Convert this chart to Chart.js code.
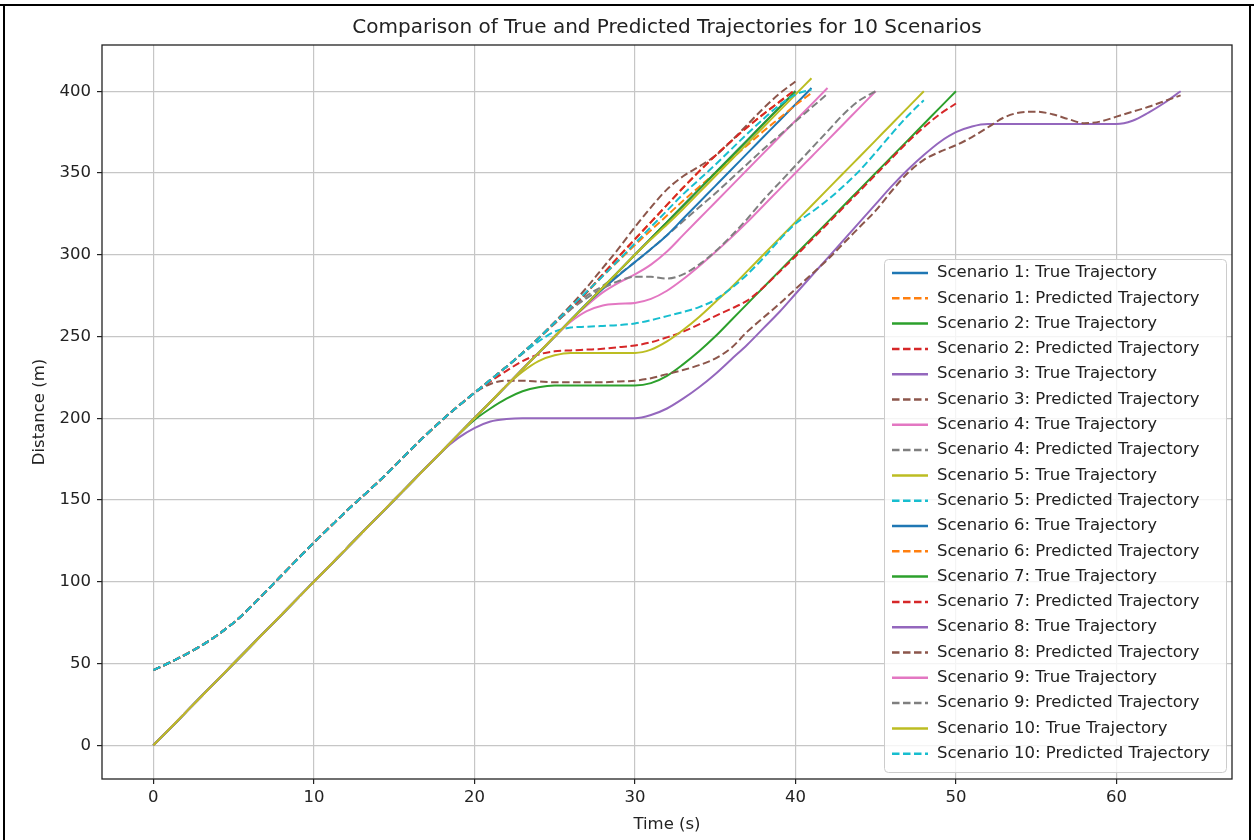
<!DOCTYPE html>
<html>
<head>
<meta charset="utf-8">
<script src="https://cdn.jsdelivr.net/npm/chart.js@4.4.0/dist/chart.umd.min.js"></script>
<style>
  html, body { margin: 0; padding: 0; background: #fff; }
  #wrap { position: relative; width: 1254px; height: 840px; }
</style>
</head>
<body>
<div id="wrap"><canvas id="traj" width="1254" height="840"></canvas></div>
<script>
// time grid (s) and axis ticks
var timeSteps = [0,1,2,3,4,5,6,7,8,9,10,11,12,13,14,15,16,17,18,19,20,21,22,23,24,25,26,27,28,29,30,31,32,33,34,35,36,37,38,39,40,41,42,43,44,45,46,47,48,49,50,51,52,53,54,55,56,57,58,59,60,61,62,63,64];
var xTicks = [0, 10, 20, 30, 40, 50, 60];
var yTicks = [0, 50, 100, 150, 200, 250, 300, 350, 400];

// shared start of every true trajectory, t = 0..17
var trueStart = [0,10,20,30,40,50,60,70,80,90,100,110,120,130,140,150,160,170];
// shared start of every predicted trajectory, t = 0..20
var predStart = [46,50.5,55.5,61,67.5,75,84,94,104,114,124,133.5,143,152,161,170.5,180.5,190,199,207.5,215.5];

// true trajectories, from t = 18
var trueS1 = [180,190,200,210,220,230,240,250,260,270,280,290,300,310,320,330,340,350,360,370,380,390,400];
var trueS2 = [180,190,199,206,212,216.5,219,220,220,220,220,220,220,221.5,226,233,241,250,260,270,280,290,300,310,320,330,340,350,360,370,380,390,400];
var trueS3 = [180,190,200,210,220,230,240,250,260,270,280,290,300,310,320,330,340,350,360,370,380,390,400];
var trueS4 = [180,190,200,210,220,230,240,250,260,269,277,283,288,294,302,312,322,332,342,352,362,372,382,392,402];
var trueS5 = [180,190,200,210,220,228.5,235,238.5,240,240,240,240,240,242,247,254,262,271,280,290,300,310,320,330,340,350,360,370,380,390,400];
var trueS6 = [180,190,200,210,220,230,240,250,260,270,279,287.5,295.5,303.5,312,322,332,342,352,362,372,382,392,402];
var trueS7 = [180,190,200,210,220,230,240,250,260,270,280,290,300,310,320,330,340,350,360,370,380,390,400];
var trueS8 = [180,188,194,198,199.5,200,200,200,200,200,200,200,200,202,206,212,219,227,236,245,255,265,276,287,298,309,320,331,342,352,361,369,375,378.5,380,380,380,380,380,380,380,380,380,382,387,393,400];
var trueS9 = [180,190,200,210,220,230,240,250,259,265.5,269,270,270.5,273,278,285,293,301.5,310.5,320,330,340,350,360,370,380,390,400];
var trueS10 = [180,190,200,210,220,230,240,250,260,270,280,290,300,309.5,318.5,328,338,348,358,368,378,388,398,408];

// predicted trajectories, from t = 21
var predS1 = [223.5,231.5,240,249,258,267,277,288,299,309.5,320,330.5,341,351,360.5,369.5,378,386,393.5,401];
var predS2 = [222.5,229,235,239,241,241.5,242,242.5,243.5,244.5,246.5,249.5,253,257.5,262.5,267,272,280,289.5,299,309,319,329,339,349,359,369,378,386,392.5];
var predS3 = [223.5,231.5,240,249,259,269,280,292,304,317,329,340,348,354,360.5,369.5,379.5,389.5,398.5,406];
var predS4 = [223.5,231.5,240,249,258.5,267,275,281,288,295.5,303.5,312,320.5,329,337.5,346.5,355.5,364.5,373,381.5,390,398.5];
var predS5 = [223.5,231.5,239.5,247,253,255.5,256,256.5,257,258,260,262.5,265,268,272.5,279.5,288,298,309,319,326,333.5,342,351.5,362.5,374,385,394.5];
var predS6 = [223.5,231.5,240,249,258,267.5,277,287,296.5,306,315,324,333,341.5,350,358.5,367,375.5,383.5,391.5,399];
var predS7 = [223.5,231.5,240,249,258,267,277,288,299,309.5,320,330.5,341,351,360.5,369.5,378,386,393.5,401];
var predS8 = [221,223,223,222.5,222,222,222,222,222.5,223,224.5,227,229.5,232.5,236.5,243,253,261.5,270,279,288,297,307,317,327,339,350,358,363,367,372,378,384,387,387.5,386,383,380.5,381.5,384.5,387.5,390.5,394,397.5];
var predS9 = [223.5,231.5,240,249,258,266.5,273.5,279.5,284,286.5,286.5,285.5,288,294,302,311.5,322,333.5,344,354.5,365,375.5,386,394.5,400];
var predS10 = [223.5,231.5,240,249,258.5,268,277.5,287,297,307,317,327,337,346,355,364.5,374,383,391.5,398,401];

var trueRuns = [trueS1, trueS2, trueS3, trueS4, trueS5, trueS6, trueS7, trueS8, trueS9, trueS10];
var predRuns = [predS1, predS2, predS3, predS4, predS5, predS6, predS7, predS8, predS9, predS10];

var palette = ['#1f77b4', '#ff7f0e', '#2ca02c', '#d62728', '#9467bd', '#8c564b', '#e377c2', '#7f7f7f', '#bcbd22', '#17becf'];

function toPoints(values) {
	return values.map(function(y, i) { return { x: timeSteps[i], y: y }; });
}

var datasets = [];
for (var s = 0; s < 10; s++) {
	datasets.push({
		label: 'Scenario ' + (s + 1) + ': True Trajectory',
		data: toPoints(trueStart.concat(trueRuns[s])),
		borderColor: palette[(2 * s) % 10],
		borderWidth: 2,
		borderDash: []
	});
	datasets.push({
		label: 'Scenario ' + (s + 1) + ': Predicted Trajectory',
		data: toPoints(predStart.concat(predRuns[s])),
		borderColor: palette[(2 * s + 1) % 10],
		borderWidth: 2,
		borderDash: [7.5, 3.5]
	});
}
// later series are painted on top, as in the original
datasets.forEach(function(d, i) {
	d.order = datasets.length - i;
	d.pointRadius = 0;
	d.fill = false;
	d.cubicInterpolationMode = 'monotone';
});

var FONT = 'DejaVu Sans';

// frame box round the plot, and the page border
var frame = {
	id: 'frame',
	afterDatasetsDraw: function(chart) {
		var a = chart.chartArea, ctx = chart.ctx;
		ctx.save();
		ctx.strokeStyle = '#222';
		ctx.lineWidth = 1.3;
		ctx.strokeRect(a.left, a.top, a.right - a.left, a.bottom - a.top);
		ctx.restore();
	},
	afterDraw: function(chart) {
		var ctx = chart.ctx;
		ctx.save();
		ctx.strokeStyle = '#000';
		ctx.lineWidth = 2;
		ctx.beginPath();
		ctx.moveTo(0, 5); ctx.lineTo(1254, 5);
		ctx.moveTo(4, 5); ctx.lineTo(4, 840);
		ctx.moveTo(1250, 5); ctx.lineTo(1250, 840);
		ctx.stroke();
		ctx.restore();
	}
};

// legend box inside the plot, lower right
var legendBox = {
	id: 'legendBox',
	afterDraw: function(chart) {
		var ctx = chart.ctx;
		var left = 884, top = 259, w = 342, h = 513, step = 25.3;
		ctx.save();
		ctx.fillStyle = 'rgba(255,255,255,0.8)';
		ctx.strokeStyle = '#cccccc';
		ctx.lineWidth = 1;
		ctx.beginPath();
		ctx.roundRect(left + 0.5, top + 0.5, w, h, 4);
		ctx.fill();
		ctx.stroke();
		ctx.font = '16.5px "' + FONT + '"';
		ctx.textBaseline = 'middle';
		ctx.fillStyle = '#222';
		chart.data.datasets.forEach(function(d, i) {
			var y = top + 14 + i * step;
			ctx.strokeStyle = d.borderColor;
			ctx.lineWidth = 2.5;
			ctx.setLineDash(d.borderDash);
			ctx.beginPath();
			ctx.moveTo(892, y);
			ctx.lineTo(928, y);
			ctx.stroke();
			ctx.setLineDash([]);
			ctx.fillText(d.label, 937, y);
		});
		ctx.restore();
	}
};

var ctx = document.getElementById('traj').getContext('2d');
var chart = new Chart(ctx, {
	type: 'line',
	data: { datasets: datasets },
	options: {
		responsive: false,
		animation: false,
		devicePixelRatio: 1,
		layout: { padding: { left: 0, right: 22, top: 0, bottom: 0 } },
		plugins: {
			legend: { display: false },
			tooltip: { enabled: false },
			title: {
				display: true,
				fullSize: false,
				text: 'Comparison of True and Predicted Trajectories for 10 Scenarios',
				color: '#222',
				font: { family: FONT, size: 20, weight: 'normal' },
				padding: { top: 16, bottom: 5 }
			}
		},
		scales: {
			x: {
				type: 'linear',
				min: -3.2,
				max: 67.2,
				afterBuildTicks: function(scale) {
					scale.ticks = xTicks.map(function(v) { return { value: v }; });
				},
				afterFit: function(scale) { scale.height = 61; },
				grid: { color: '#c6c6c6', lineWidth: 1.2, tickColor: '#222', tickLength: 5 },
				border: { display: false },
				ticks: { color: '#222', padding: 4, maxRotation: 0, font: { family: FONT, size: 16.5 } },
				title: { display: true, text: 'Time (s)', color: '#222', font: { family: FONT, size: 16.5 }, padding: { top: 0, bottom: 5 } }
			},
			y: {
				type: 'linear',
				min: -20.6,
				max: 428.3,
				afterBuildTicks: function(scale) {
					scale.ticks = yTicks.map(function(v) { return { value: v }; });
				},
				afterFit: function(scale) { scale.width = 102; },
				grid: { color: '#c6c6c6', lineWidth: 1.2, tickColor: '#222', tickLength: 5 },
				border: { display: false },
				ticks: { color: '#222', padding: 6, font: { family: FONT, size: 16.5 } },
				title: { display: true, text: 'Distance (m)', color: '#222', font: { family: FONT, size: 16.5 }, padding: { top: 30, bottom: 0 } }
			}
		}
	},
	plugins: [frame, legendBox]
});
</script>
</body>
</html>
